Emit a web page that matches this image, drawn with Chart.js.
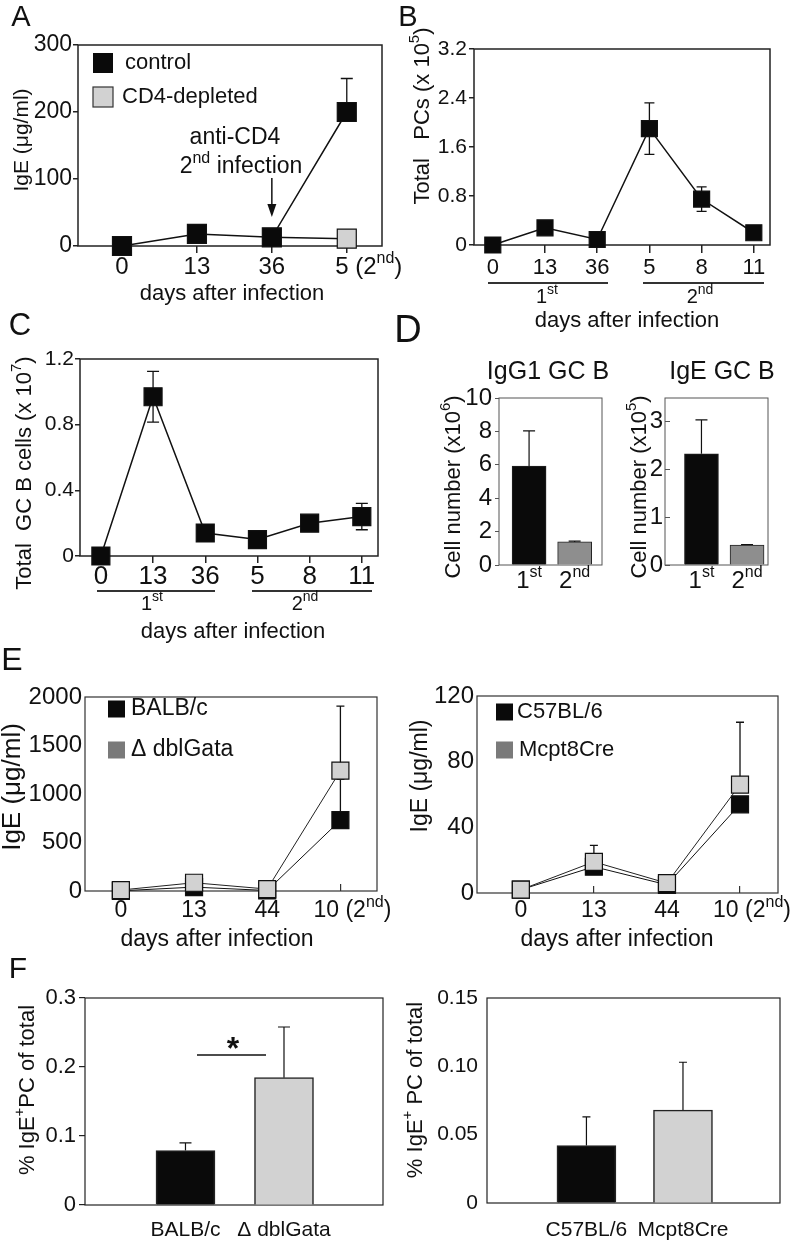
<!DOCTYPE html>
<html><head><meta charset="utf-8">
<script src="https://cdn.jsdelivr.net/npm/chart.js@4.4.0/dist/chart.umd.min.js"></script>
<style>
html,body{margin:0;padding:0;background:#fff;}
#page{position:relative;width:800px;height:1241px;overflow:hidden;background:#fff;}
canvas{position:absolute;}
</style></head><body><div id="page"></div>
<script>
// ================= DATA =================
// Panel A
const aCategories = ['0', '13', '36', '5 (2^{nd})'];
const aYTicks = [0, 100, 200, 300];
const aYLabels = ['0', '100', '200', '300'];
const aControl = [0, 18, 13, 200];
const aControlErr = [0, 0, 0, 50];
const aCD4 = [null, null, 13, 11];
// Panel B
const bCategories = ['0', '13', '36', '5', '8', '11'];
const bYTicks = [0, 0.8, 1.6, 2.4, 3.2];
const bYLabels = ['0', '0.8', '1.6', '2.4', '3.2'];
const bPCs = [0, 0.28, 0.09, 1.9, 0.75, 0.2];
const bPCsErr = [0, 0, 0, 0.42, 0.2, 0];
// Panel C
const cCategories = ['0', '13', '36', '5', '8', '11'];
const cYTicks = [0, 0.4, 0.8, 1.2];
const cYLabels = ['0', '0.4', '0.8', '1.2'];
const cGCB = [0, 0.97, 0.14, 0.1, 0.2, 0.24];
const cGCBErr = [0, 0.155, 0, 0, 0, 0.08];
// Panel D
const dCategories = ['1^{st}', '2^{nd}'];
const dIgG1YTicks = [0, 2, 4, 6, 8, 10];
const dIgG1YLabels = ['0', '2', '4', '6', '8', '10'];
const dIgG1 = [5.93, 1.38];
const dIgG1Err = [2.1, 0.05];
const dIgEYTicks = [0, 0.5, 1, 1.5, 2, 2.5, 3, 3.5];
const dIgEYLabels = ['0', '', '1', '', '2', '', '3', ''];
const dIgE = [2.33, 0.42];
const dIgEErr = [0.71, 0.01];
// Panel E
const eCategories = ['0', '13', '44', '10 (2^{nd})'];
const eBalbYTicks = [0, 500, 1000, 1500, 2000];
const eBalbYLabels = ['0', '500', '1000', '1500', '2000'];
const eBALBc = [2, 40, 5, 730];
const eBALBcErr = [0, 0, 0, 420];
const eDblGata = [10, 85, 20, 1240];
const eDblGataErr = [0, 0, 0, 665];
const eC57YTicks = [0, 40, 80, 120];
const eC57YLabels = ['0', '40', '80', '120'];
const eC57 = [2, 16, 5, 54];
const eC57Err = [0, 0, 0, 0];
const eMcpt8 = [2, 19, 6, 66];
const eMcpt8Err = [0, 10, 0, 38];
// Panel F
const fBalbLabels = ['BALB/c', 'Δ dblGata'];
const fBalbYTicks = [0, 0.1, 0.2, 0.3];
const fBalbYLabels = ['0', '0.1', '0.2', '0.3'];
const fBalb = [0.079, 0.1845];
const fBalbErr = [0.011, 0.0735];
const fC57Labels = ['C57BL/6', 'Mcpt8Cre'];
const fC57YTicks = [0, 0.05, 0.10, 0.15];
const fC57YLabels = ['0', '0.05', '0.10', '0.15'];
const fC57 = [0.042, 0.068];
const fC57Err = [0.021, 0.035];

// ================= STYLE / HELPERS =================
const FONT = '"Liberation Sans", Arial, Helvetica, sans-serif';
Chart.defaults.font.family = FONT;
Chart.defaults.color = '#111';
const BLACK = '#0a0a0a', LIGHT = '#d2d2d2', MID = '#8e8e8e', SWATCH = '#7a7a7a';
const SUP = 0.68;
const page = document.getElementById('page');

function parseRich(s) {
  const out = []; const re = /\^\{([^}]*)\}/g; let last = 0, m;
  while ((m = re.exec(s))) {
    if (m.index > last) out.push({ t: s.slice(last, m.index), sup: false });
    out.push({ t: m[1], sup: true }); last = re.lastIndex;
  }
  if (last < s.length) out.push({ t: s.slice(last), sup: false });
  return out;
}
function drawRich(ctx, s, x, y, o) {
  const parts = parseRich(s); const size = o.size; const wt = o.weight || 'normal';
  ctx.save(); ctx.translate(x, y); if (o.rotate) ctx.rotate(o.rotate);
  let w = 0;
  parts.forEach(p => { ctx.font = `${wt} ${p.sup ? Math.round(size * SUP) : size}px ${FONT}`; w += ctx.measureText(p.t).width; });
  let px = o.align === 'left' ? 0 : (o.align === 'right' ? -w : -w / 2);
  ctx.fillStyle = o.color || '#111'; ctx.textBaseline = 'middle'; ctx.textAlign = 'left';
  parts.forEach(p => {
    const fs = p.sup ? Math.round(size * SUP) : size;
    ctx.font = `${wt} ${fs}px ${FONT}`;
    ctx.fillText(p.t, px, p.sup ? -size * 0.36 : 0);
    px += ctx.measureText(p.t).width;
  });
  ctx.restore();
}
const pts = vals => vals.map((v, i) => ({ x: i, y: v }));
const side2r = s => s / Math.SQRT2;

function lineDS(vals, fill, side, extra) {
  const r = side2r(side);
  return Object.assign({
    type: 'line', data: pts(vals), borderColor: '#111', borderWidth: 1.5,
    pointStyle: 'rect', pointRadius: r, pointHoverRadius: r,
    pointBackgroundColor: fill, pointBorderColor: '#111', pointBorderWidth: 1.2,
    tension: 0, clip: false, fill: false
  }, extra || {});
}
function barDS(vals, colors, thick, bw) {
  return {
    type: 'bar', data: pts(vals), backgroundColor: colors, borderColor: '#222',
    borderWidth: bw, barThickness: thick, clip: false
  };
}

function panelPlugin(spec) {
  const [cx, cy] = spec.box;
  return {
    id: 'panel',
    beforeDatasetsDraw(chart) {
      const ctx = chart.ctx, a = chart.chartArea, xs = chart.scales.x, ys = chart.scales.y;
      ctx.save(); ctx.strokeStyle = spec.frameColor; ctx.lineWidth = spec.frameWidth;
      ctx.strokeRect(a.left, a.top, a.right - a.left, a.bottom - a.top); ctx.restore();
      (spec.errors || []).forEach(e => {
        ctx.save(); ctx.strokeStyle = '#111'; ctx.lineWidth = e.width || 1.3;
        e.values.forEach((v, i) => {
          const er = e.err[i]; if (v == null || !er) return;
          const px = xs.getPixelForValue(i), py = ys.getPixelForValue(v);
          const ends = [v + er]; if (e.both) ends.push(v - er);
          ends.forEach(ev => {
            const pe = ys.getPixelForValue(ev);
            ctx.beginPath(); ctx.moveTo(px, py); ctx.lineTo(px, pe);
            ctx.moveTo(px - e.cap / 2, pe); ctx.lineTo(px + e.cap / 2, pe); ctx.stroke();
          });
        });
        ctx.restore();
      });
    },
    afterDraw(chart) {
      const ctx = chart.ctx, xs = chart.scales.x;
      const XL = spec.xLabels;
      XL.labels.forEach((s, i) => {
        const px = xs.getPixelForValue(i) + ((XL.shift && XL.shift[i]) || 0);
        drawRich(ctx, s, px, XL.y - cy, { size: XL.size });
      });
      (spec.lines || []).forEach(l => {
        ctx.save(); ctx.strokeStyle = l.color || '#333'; ctx.lineWidth = l.width || 1.5;
        ctx.beginPath(); ctx.moveTo(l.x1 - cx, l.y - cy); ctx.lineTo(l.x2 - cx, l.y - cy); ctx.stroke(); ctx.restore();
      });
      (spec.legend || []).forEach(g => {
        ctx.save(); ctx.fillStyle = g.color;
        ctx.fillRect(g.x - cx, g.y - cy - g.box / 2, g.box, g.box);
        if (g.border) { ctx.strokeStyle = g.border; ctx.lineWidth = 1.2; ctx.strokeRect(g.x - cx, g.y - cy - g.box / 2, g.box, g.box); }
        ctx.restore();
        drawRich(ctx, g.label, g.tx - cx, g.y - cy, { size: g.size, align: 'left' });
      });
      (spec.texts || []).forEach(t => drawRich(ctx, t.s, t.x - cx, t.y - cy, t));
      if (spec.arrow) {
        const ar = spec.arrow; const px = xs.getPixelForValue(ar.i);
        ctx.save(); ctx.strokeStyle = '#111'; ctx.fillStyle = '#111'; ctx.lineWidth = 1.5;
        ctx.beginPath(); ctx.moveTo(px, ar.y1 - cy); ctx.lineTo(px, ar.y2 - cy - 10); ctx.stroke();
        ctx.beginPath(); ctx.moveTo(px - 4.5, ar.y2 - cy - 13); ctx.lineTo(px + 4.5, ar.y2 - cy - 13); ctx.lineTo(px, ar.y2 - cy); ctx.closePath(); ctx.fill();
        ctx.restore();
      }
    }
  };
}

function build(spec) {
  const [cx, cy, w, h] = spec.box; const [L, T, R, B] = spec.plot;
  const cv = document.createElement('canvas');
  cv.width = w; cv.height = h;
  cv.style.left = cx + 'px'; cv.style.top = cy + 'px'; cv.style.width = w + 'px'; cv.style.height = h + 'px';
  page.appendChild(cv);
  const yt = spec.yTickLen || 0;
  new Chart(cv.getContext('2d'), {
    type: spec.type,
    data: { datasets: spec.datasets },
    options: {
      responsive: false, animation: false, devicePixelRatio: 1, events: [],
      layout: { padding: { left: 0, top: T - cy, right: cx + w - R, bottom: 0 } },
      plugins: { legend: { display: false }, tooltip: { enabled: false } },
      scales: {
        x: {
          type: 'linear', min: spec.xMin, max: spec.xMax, bounds: 'data', offset: false,
          afterBuildTicks: s => { s.ticks = spec.xLabels.labels.map((_, i) => ({ value: i })); },
          ticks: { display: false },
          grid: { display: !!spec.xTickLen, offset: false, drawOnChartArea: false, drawTicks: true,
                  tickLength: spec.xTickLen || 0, color: spec.frameColor, lineWidth: spec.frameWidth },
          border: { display: false },
          afterFit: s => { s.height = cy + h - B; }
        },
        y: {
          type: 'linear', min: spec.yTicks[0], max: spec.yTicks[spec.yTicks.length - 1], bounds: 'data',
          afterBuildTicks: s => { s.ticks = spec.yTicks.map(v => ({ value: v })); },
          ticks: { font: { size: spec.yFont }, color: '#111', padding: spec.yPad, callback: (v, i) => spec.yLabels[i] },
          grid: { display: true, drawOnChartArea: false, drawTicks: yt !== 0, tickLength: yt,
                  color: spec.frameColor, lineWidth: spec.frameWidth },
          border: { display: false },
          afterFit: s => { s.width = L - cx; }
        }
      }
    },
    plugins: [panelPlugin(spec)]
  });
}

// ================= PANELS =================
build({ // A
  type: 'line', box: [0, 0, 410, 305], plot: [78, 45, 382, 246],
  xMin: -0.587, xMax: 3.47, xTickLen: 7,
  yTicks: aYTicks, yLabels: aYLabels, yFont: 23, yTickLen: 5, yPad: 1,
  frameColor: '#222', frameWidth: 1.5,
  datasets: [
    lineDS(aControl, BLACK, 19),
    lineDS(aCD4, LIGHT, 19, { pointRadius: [0, 0, 0, side2r(19)] })
  ],
  errors: [{ values: aControl, err: aControlErr, cap: 12 }],
  xLabels: { labels: aCategories, y: 267, size: 24, shift: [0, 0, 0, 22] },
  legend: [
    { label: 'control', color: BLACK, x: 93, y: 63, box: 20, tx: 125, size: 22 },
    { label: 'CD4-depleted', color: LIGHT, border: '#333', x: 93, y: 97, box: 20, tx: 122, size: 22 }
  ],
  texts: [
    { s: 'A', x: 21, y: 18, size: 29 },
    { s: 'IgE (μg/ml)', x: 22, y: 140, size: 21, rotate: -Math.PI / 2 },
    { s: 'days after infection', x: 232, y: 294, size: 22 },
    { s: 'anti-CD4', x: 235, y: 138, size: 23 },
    { s: '2^{nd} infection', x: 241, y: 167, size: 23 }
  ],
  arrow: { i: 2, y1: 178, y2: 217 }
});

build({ // B
  type: 'line', box: [400, 0, 400, 335], plot: [474, 49, 770, 245],
  xMin: -0.36, xMax: 5.31, xTickLen: 8,
  yTicks: bYTicks, yLabels: bYLabels, yFont: 21, yTickLen: 5, yPad: 2,
  frameColor: '#222', frameWidth: 1.5,
  datasets: [lineDS(bPCs, BLACK, 16)],
  errors: [{ values: bPCs, err: bPCsErr, cap: 10, both: true }],
  xLabels: { labels: bCategories, y: 268, size: 22 },
  lines: [{ x1: 488, x2: 608, y: 283, width: 2 }, { x1: 643, x2: 764, y: 283, width: 2 }],
  texts: [
    { s: 'B', x: 408, y: 18, size: 29 },
    { s: 'Total   PCs (x 10^{5})', x: 423, y: 116, size: 22, rotate: -Math.PI / 2 },
    { s: '1^{st}', x: 547, y: 297, size: 20 },
    { s: '2^{nd}', x: 700, y: 297, size: 20 },
    { s: 'days after infection', x: 627, y: 321, size: 22 }
  ]
});

build({ // C
  type: 'line', box: [0, 310, 400, 335], plot: [80, 359, 378, 556],
  xMin: -0.4, xMax: 5.31, xTickLen: 7,
  yTicks: cYTicks, yLabels: cYLabels, yFont: 21, yTickLen: 5, yPad: 1,
  frameColor: '#222', frameWidth: 1.5,
  datasets: [lineDS(cGCB, BLACK, 18)],
  errors: [{ values: cGCB, err: cGCBErr, cap: 12, both: true }],
  xLabels: { labels: cCategories, y: 577, size: 26 },
  lines: [{ x1: 97, x2: 215, y: 591, width: 2 }, { x1: 252, x2: 372, y: 591, width: 2 }],
  texts: [
    { s: 'C', x: 20, y: 326, size: 31 },
    { s: 'Total  GC B cells (x 10^{7})', x: 25, y: 473, size: 22, rotate: -Math.PI / 2 },
    { s: '1^{st}', x: 152, y: 604, size: 20 },
    { s: '2^{nd}', x: 305, y: 604, size: 20 },
    { s: 'days after infection', x: 233, y: 632, size: 22 }
  ]
});

build({ // D left
  type: 'bar', box: [395, 310, 215, 280], plot: [499, 398, 602, 565],
  xMin: -0.66, xMax: 1.6, xTickLen: 0,
  yTicks: dIgG1YTicks, yLabels: dIgG1YLabels, yFont: 24, yTickLen: 4, yPad: 3,
  frameColor: '#555', frameWidth: 1,
  datasets: [barDS(dIgG1, [BLACK, MID], 34, 1)],
  errors: [{ values: dIgG1, err: dIgG1Err, cap: 12, width: 1.2 }],
  xLabels: { labels: dCategories, y: 581, size: 24 },
  texts: [
    { s: 'D', x: 408, y: 332, size: 38 },
    { s: 'IgG1 GC B', x: 548, y: 372, size: 25 },
    { s: 'Cell number (x10^{6})', x: 454, y: 487, size: 22, rotate: -Math.PI / 2 }
  ]
});

build({ // D right
  type: 'bar', box: [610, 310, 190, 280], plot: [665, 398, 768, 565],
  xMin: -0.8, xMax: 1.46, xTickLen: 0,
  yTicks: dIgEYTicks, yLabels: dIgEYLabels, yFont: 24, yTickLen: -5, yPad: 7,
  frameColor: '#555', frameWidth: 1,
  datasets: [barDS(dIgE, [BLACK, MID], 34, 1)],
  errors: [{ values: dIgE, err: dIgEErr, cap: 12, width: 1.2 }],
  xLabels: { labels: dCategories, y: 581, size: 24 },
  texts: [
    { s: 'IgE GC B', x: 722, y: 372, size: 25 },
    { s: 'Cell number (x10^{5})', x: 640, y: 487, size: 22, rotate: -Math.PI / 2 }
  ]
});

build({ // E left
  type: 'line', box: [0, 640, 400, 315], plot: [85, 697, 377, 891],
  xMin: -0.49, xMax: 3.5, xTickLen: -7,
  yTicks: eBalbYTicks, yLabels: eBalbYLabels, yFont: 24, yTickLen: 0, yPad: 3,
  frameColor: '#333', frameWidth: 1.2,
  datasets: [
    lineDS(eDblGata, LIGHT, 17, { borderWidth: 1, borderColor: '#222' }),
    lineDS(eBALBc, BLACK, 17, { borderWidth: 1 })
  ],
  errors: [{ values: eBALBc, err: eBALBcErr, cap: 8 }, { values: eDblGata, err: eDblGataErr, cap: 8 }],
  xLabels: { labels: eCategories, y: 911, size: 23, shift: [0, 0, 0, 12] },
  legend: [
    { label: 'BALB/c', color: BLACK, x: 108, y: 709, box: 17, tx: 131, size: 23 },
    { label: 'Δ dblGata', color: SWATCH, x: 108, y: 750, box: 17, tx: 131, size: 23 }
  ],
  texts: [
    { s: 'E', x: 12, y: 661, size: 32 },
    { s: 'IgE (μg/ml)', x: 13, y: 787, size: 26, rotate: -Math.PI / 2 },
    { s: 'days after infection', x: 217, y: 940, size: 23 }
  ]
});

build({ // E right
  type: 'line', box: [400, 640, 400, 315], plot: [477, 696, 778, 893],
  xMin: -0.6, xMax: 3.52, xTickLen: -7,
  yTicks: eC57YTicks, yLabels: eC57YLabels, yFont: 24, yTickLen: 0, yPad: 3,
  frameColor: '#333', frameWidth: 1.2,
  datasets: [
    lineDS(eMcpt8, LIGHT, 17, { borderWidth: 1, borderColor: '#222' }),
    lineDS(eC57, BLACK, 17, { borderWidth: 1 })
  ],
  errors: [{ values: eC57, err: eC57Err, cap: 8 }, { values: eMcpt8, err: eMcpt8Err, cap: 8 }],
  xLabels: { labels: eCategories, y: 911, size: 23, shift: [0, 0, 0, 12] },
  legend: [
    { label: 'C57BL/6', color: BLACK, x: 496, y: 712, box: 17, tx: 517, size: 22 },
    { label: 'Mcpt8Cre', color: SWATCH, x: 496, y: 750, box: 17, tx: 519, size: 22 }
  ],
  texts: [
    { s: 'IgE (μg/ml)', x: 421, y: 776, size: 23, rotate: -Math.PI / 2 },
    { s: 'days after infection', x: 617, y: 940, size: 23 }
  ]
});

build({ // F left
  type: 'bar', box: [0, 955, 400, 286], plot: [85, 998, 383, 1205],
  xMin: -1.02, xMax: 2.005, xTickLen: 0,
  yTicks: fBalbYTicks, yLabels: fBalbYLabels, yFont: 22, yTickLen: 6, yPad: 3,
  frameColor: '#222', frameWidth: 1.2,
  datasets: [barDS(fBalb, [BLACK, LIGHT], 59, 1.5)],
  errors: [{ values: fBalb, err: fBalbErr, cap: 12, width: 1.2 }],
  xLabels: { labels: fBalbLabels, y: 1230, size: 21 },
  lines: [{ x1: 197, x2: 266, y: 1055, width: 1.5, color: '#111' }],
  texts: [
    { s: 'F', x: 18, y: 970, size: 30 },
    { s: '% IgE^{+}PC of total', x: 28, y: 1090, size: 22, rotate: -Math.PI / 2 },
    { s: '*', x: 233, y: 1050, size: 32, weight: 'bold' }
  ]
});

build({ // F right
  type: 'bar', box: [400, 955, 400, 286], plot: [487, 998, 780, 1203],
  xMin: -1.03, xMax: 2.005, xTickLen: 0,
  yTicks: fC57YTicks, yLabels: fC57YLabels, yFont: 21, yTickLen: 0, yPad: 9,
  frameColor: '#222', frameWidth: 1.2,
  datasets: [barDS(fC57, [BLACK, LIGHT], 59, 1.5)],
  errors: [{ values: fC57, err: fC57Err, cap: 8, width: 1.2 }],
  xLabels: { labels: fC57Labels, y: 1230, size: 21 },
  texts: [
    { s: '% IgE^{+} PC of total', x: 416, y: 1090, size: 22, rotate: -Math.PI / 2 }
  ]
});
</script>
</body></html>
